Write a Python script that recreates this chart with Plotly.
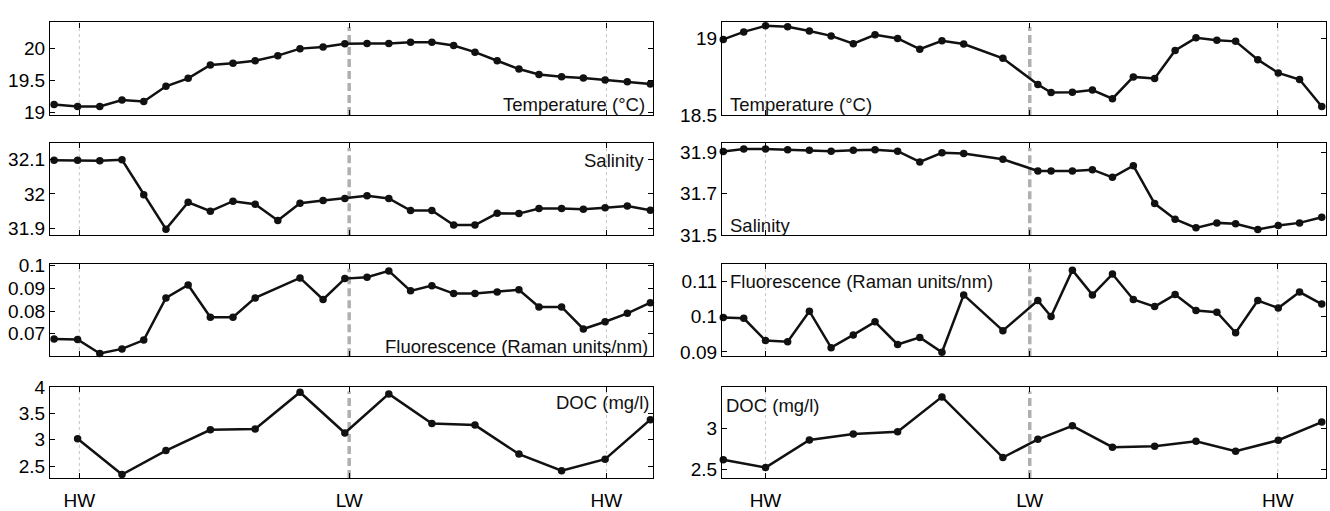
import plotly.graph_objects as go

# ---------------- data ----------------
# time axis: hours after first high water (HW); LW ~6.2 h
tide_ticks_left = [0.0, 6.2, 12.11]
tide_ticks_right = [0.0, 6.2, 12.02]
tide_labels = ["HW", "LW", "HW"]

t_left = [-0.58, -0.04, 0.47, 0.98, 1.48, 1.99, 2.5, 3.01, 3.53, 4.04, 4.56, 5.07, 5.6, 6.1,
          6.61, 7.11, 7.61, 8.1, 8.6, 9.09, 9.6, 10.1, 10.56, 11.08, 11.58, 12.08, 12.59, 13.12]
temp_left = [19.125, 19.095, 19.095, 19.195, 19.17, 19.41, 19.535, 19.745, 19.77, 19.81, 19.89, 20.0,
             20.025, 20.075, 20.08, 20.08, 20.1, 20.1, 20.05, 19.945, 19.81, 19.68, 19.595, 19.56,
             19.54, 19.51, 19.48, 19.445]
sal_left = [32.098, 32.098, 32.096, 32.099, 31.998, 31.898, 31.976, 31.95, 31.979, 31.97, 31.923,
            31.973, 31.981, 31.987, 31.995, 31.987, 31.952, 31.952, 31.91, 31.91, 31.944, 31.943,
            31.958, 31.958, 31.956, 31.96, 31.965, 31.953]
t_fl_left = [-0.58, -0.04, 0.47, 0.98, 1.48, 1.99, 2.5, 3.01, 3.53, 4.04, 5.07, 5.6, 6.1,
             6.61, 7.11, 7.61, 8.1, 8.6, 9.09, 9.6, 10.1, 10.56, 11.08, 11.58, 12.08, 12.59, 13.12]
fl_left = [0.0677, 0.0675, 0.0613, 0.0633, 0.0672, 0.0858, 0.0915, 0.0773, 0.0773, 0.0858, 0.0946,
           0.0851, 0.0943, 0.0949, 0.0977, 0.0889, 0.0912, 0.0877, 0.0877, 0.0884, 0.0894, 0.0818,
           0.0818, 0.0721, 0.0753, 0.079, 0.0837]
t_doc_left = [-0.04, 0.98, 1.99, 3.01, 4.04, 5.07, 6.1, 7.11, 8.1, 9.09, 10.1, 11.08, 12.08, 13.12]
doc_left = [3.018, 2.343, 2.795, 3.187, 3.205, 3.898, 3.127, 3.867, 3.307, 3.277, 2.729, 2.416,
            2.633, 3.38]

t_right = [-0.99, -0.51, 0.0, 0.52, 1.03, 1.54, 2.06, 2.57, 3.10, 3.62, 4.14, 4.65, 5.57, 6.39,
           6.70, 7.20, 7.67, 8.14, 8.63, 9.13, 9.61, 10.10, 10.59, 11.03, 11.55, 12.03, 12.53, 13.05]
temp_right = [18.996, 19.045, 19.085, 19.079, 19.051, 19.019, 18.968, 19.026, 19.002, 18.932,
              18.987, 18.966, 18.872, 18.70, 18.647, 18.649, 18.664, 18.607, 18.75, 18.739,
              18.923, 19.006, 18.991, 18.983, 18.863, 18.776, 18.733, 18.556]
sal_right = [31.903, 31.916, 31.916, 31.912, 31.909, 31.905, 31.909, 31.912, 31.905, 31.853,
             31.897, 31.894, 31.866, 31.81, 31.81, 31.81, 31.816, 31.779, 31.835, 31.653, 31.578,
             31.536, 31.56, 31.556, 31.528, 31.547, 31.56, 31.587]
fl_right = [0.0997, 0.0995, 0.0932, 0.0929, 0.1015, 0.0912, 0.0948, 0.0985, 0.0921, 0.0941,
            0.0899, 0.1061, 0.096, 0.1045, 0.1, 0.1131, 0.1061, 0.112, 0.1048, 0.1028, 0.1062,
            0.1017, 0.1012, 0.0954, 0.1045, 0.1024, 0.1069, 0.1035]
t_doc_right = [-0.99, 0.0, 1.03, 2.06, 3.10, 4.14, 5.57, 6.39, 7.20, 8.14, 9.13, 10.10, 11.03,
               12.03, 13.05]
doc_right = [2.615, 2.519, 2.858, 2.931, 2.958, 3.385, 2.642, 2.865, 3.031, 2.769, 2.781, 2.842,
             2.719, 2.854, 3.077]

labels = ["Temperature (°C)", "Salinity", "Fluorescence (Raman units/nm)", "DOC (mg/l)"]

# ---------------- layout helpers ----------------
W, H = 1330, 511
col_x = [(50, 653), (722, 1326)]
row_y = [(13, 109.5), (139, 235), (265, 361), (393, 488)]
x_ranges = [[-0.674, 13.18], [-1.02, 13.15]]

panels = [
    # (row, col, t, y, yrange, tickvals, ticktext, label x, label y, xanchor)
    (0, 0, t_left, temp_left, [18.96, 20.41], [19, 19.5, 20], ["19", "19.5", "20"], 0.990, 0.11, "right"),
    (0, 1, t_right, temp_right, [18.5, 19.107], [18.5, 19], ["18.5", "19"], 0.010, 0.11, "left"),
    (1, 0, t_left, sal_left, [31.88, 32.147], [31.9, 32, 32.1], ["31.9", "32", "32.1"], 0.988, 0.816, "right"),
    (1, 1, t_right, sal_right, [31.5, 31.943], [31.5, 31.7, 31.9], ["31.5", "31.7", "31.9"], 0.010, 0.11, "left"),
    (2, 0, t_fl_left, fl_left, [0.0601, 0.1007], [0.07, 0.08, 0.09, 0.1], ["0.07", "0.08", "0.09", "0.1"], 0.995, 0.11, "right"),
    (2, 1, t_right, fl_right, [0.0888, 0.1148], [0.09, 0.1, 0.11], ["0.09", "0.1", "0.11"], 0.010, 0.807, "left"),
    (3, 0, t_doc_left, doc_left, [2.278, 4.0], [2.5, 3, 3.5, 4], ["2.5", "3", "3.5", "4"], 0.998, 0.832, "right"),
    (3, 1, t_doc_right, doc_right, [2.392, 3.508], [2.5, 3], ["2.5", "3"], 0.004, 0.80, "left"),
]

fig = go.Figure()
tickfont = dict(family="Liberation Sans, Arial, sans-serif", size=19, color="black")
labfont = dict(family="Liberation Sans, Arial, sans-serif", size=18.5, color="#111111")
shapes = []
annotations = []

for i, (r, c, tx, vy, yr, tv, tt, lx, ly, lxa) in enumerate(panels):
    n = i + 1
    xa = "x" if n == 1 else f"x{n}"
    ya = "y" if n == 1 else f"y{n}"
    fig.add_trace(go.Scatter(x=tx, y=vy, mode="lines+markers", xaxis=xa, yaxis=ya,
                             line=dict(color="#111111", width=2.5),
                             marker=dict(color="#111111", size=7.5), showlegend=False,
                             cliponaxis=False))
    x0, x1 = col_x[c]
    y0, y1 = row_y[r]
    ticks_x = tide_ticks_left if c == 0 else tide_ticks_right
    xkey = "xaxis" if n == 1 else f"xaxis{n}"
    ykey = "yaxis" if n == 1 else f"yaxis{n}"
    fig.layout[xkey] = dict(domain=[x0 / W, x1 / W], range=x_ranges[c], anchor=ya,
                            tickvals=ticks_x, ticktext=tide_labels if r == 3 else ["", "", ""],
                            ticks="inside", ticklen=5, tickcolor="black", mirror="ticks",
                            showline=True, linecolor="black", linewidth=1.3, showgrid=False,
                            zeroline=False, tickfont=tickfont, fixedrange=True,
                            ticklabelstandoff=5)
    fig.layout[ykey] = dict(domain=[1 - y1 / H, 1 - y0 / H], range=yr, anchor=xa,
                            tickvals=tv, ticktext=tt, ticks="inside", ticklen=5,
                            tickcolor="black", mirror="ticks", showline=True, linecolor="black",
                            linewidth=1.3, showgrid=False, zeroline=False, tickfont=tickfont,
                            fixedrange=True)
    # tide lines
    yref = f"{ya} domain"
    for k, xv in enumerate(ticks_x):
        if k == 1:
            shapes.append(dict(type="line", xref=xa, yref=yref, x0=xv, x1=xv, y0=0, y1=0.95,
                               line=dict(color="#b0b0b0", width=3.5, dash="8px,4px"),
                               layer="below"))
        else:
            shapes.append(dict(type="line", xref=xa, yref=yref, x0=xv, x1=xv, y0=0, y1=1,
                               line=dict(color="#c4c4c4", width=1, dash="dot"), layer="below"))
    annotations.append(dict(text=labels[r], xref=f"{xa} domain", yref=f"{ya} domain",
                            x=lx, y=ly, xanchor=lxa, yanchor="middle", showarrow=False,
                            font=labfont))

fig.update_layout(width=W, height=H, margin=dict(l=0, r=0, t=0, b=0),
                  paper_bgcolor="white", plot_bgcolor="white", shapes=shapes,
                  annotations=annotations, font=tickfont)

fig.write_html("out.html", config={"displayModeBar": False},
               post_script="document.body.style.margin='0px';")
